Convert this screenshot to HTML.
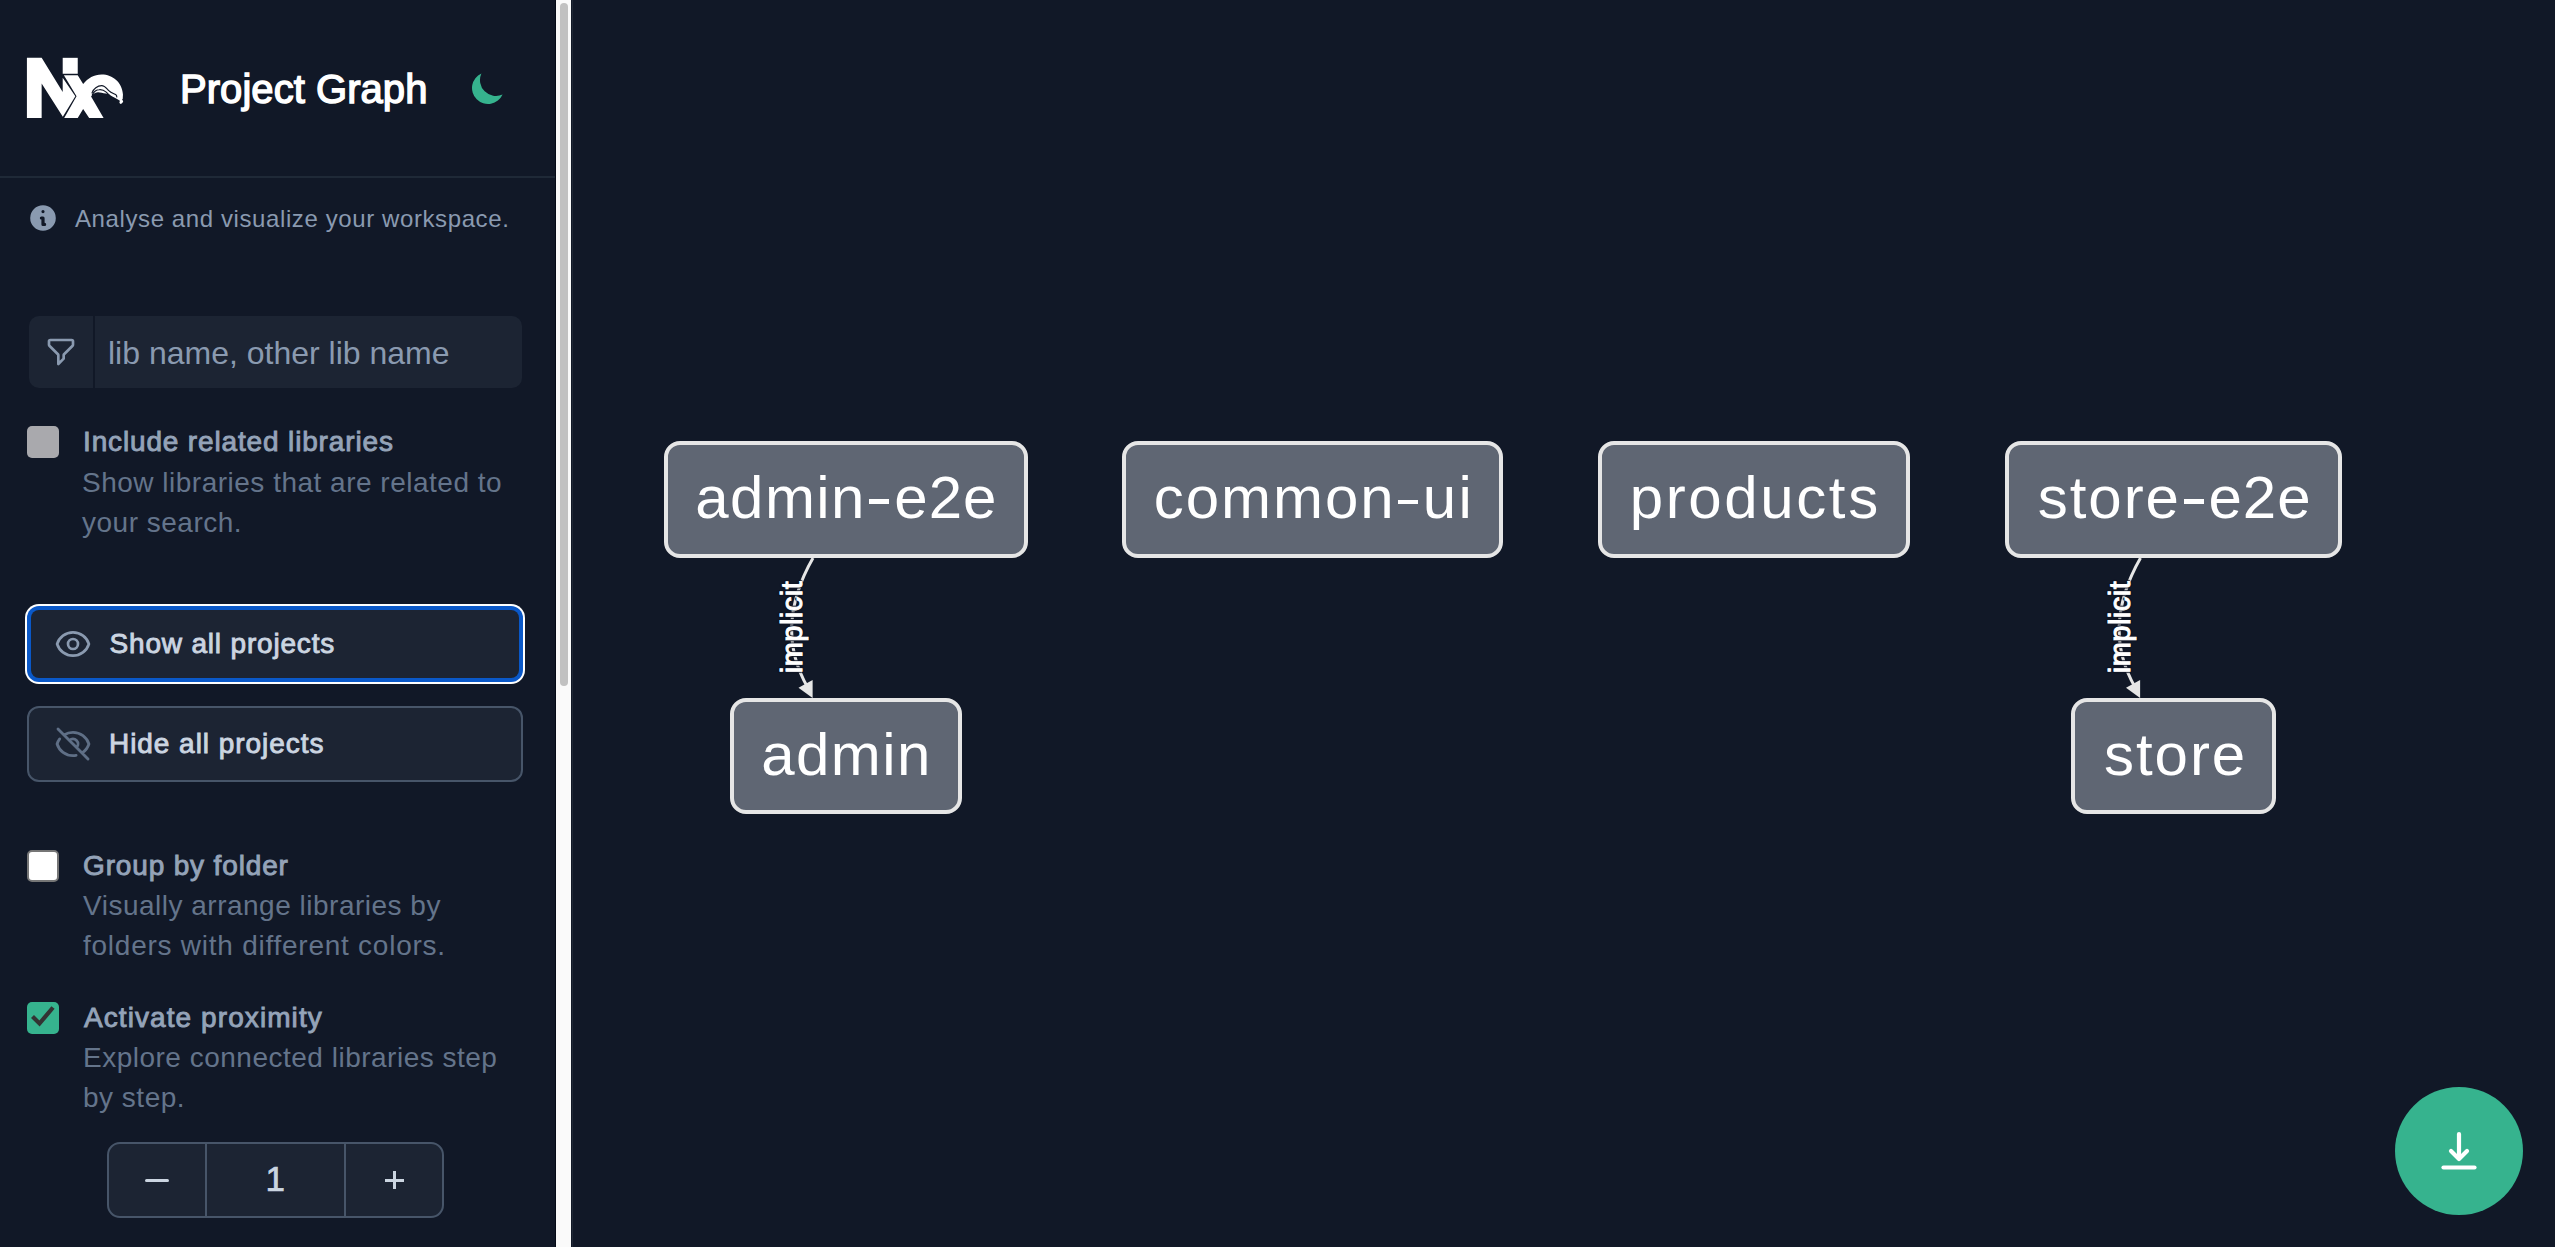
<!DOCTYPE html>
<html>
<head>
<meta charset="utf-8">
<style>
html,body{margin:0;padding:0;width:2555px;height:1247px;overflow:hidden;background:#111827;font-family:"Liberation Sans",sans-serif;}
.a{position:absolute;}
.t{position:absolute;white-space:nowrap;line-height:1;}
.lbl{font-size:28px;color:#94a3b8;-webkit-text-stroke:0.9px #94a3b8;letter-spacing:0.85px;}
.desc{font-size:28px;color:#64748b;line-height:40px;letter-spacing:0.5px;}
.node{position:absolute;box-sizing:border-box;border:4px solid #e6e6e6;background:#5f6673;border-radius:16px;}
.nt{position:absolute;white-space:nowrap;line-height:1;font-size:60px;color:#fff;}
</style>
</head>
<body>
<!-- SIDEBAR -->
<div id="sidebar" class="a" style="left:0;top:0;width:556px;height:1247px;background:#111827;">
  <!-- logo -->
  <svg class="a" style="left:20px;top:50px;width:110px;height:75px" viewBox="0 0 1829 1247">
    <path fill="#fff" d="M115,130 L360,130 L710,700 L710,460 L920,770 L712,1110 L360,555 L360,1130 L115,1130 Z"/>
    <rect fill="#fff" x="710" y="130" width="250" height="265"/>
    <path fill="#fff" d="M730,420 L960,420 L1050,565 C1130,470 1230,408 1358,408 C1540,408 1700,540 1712,740 L1708,815 L1672,852 C1610,815 1565,792 1535,775 C1485,748 1462,727 1428,725 C1372,722 1335,702 1294,704 C1240,708 1200,740 1182,775 L1390,1130 L1150,1130 L1050,980 L960,1130 L735,1130 L940,770 Z"/>
    <ellipse fill="#fff" cx="1684" cy="862" rx="26" ry="36" transform="rotate(40 1684 862)"/>
    <g fill="none" stroke="#111827" stroke-width="20" stroke-linecap="round">
      <path d="M1198,712 C1220,640 1290,594 1358,594 C1410,594 1440,640 1481,679 C1510,710 1560,725 1593,743 C1605,755 1610,765 1609,780"/>
      <path d="M1204,742 C1230,690 1260,663 1320,660 C1370,656 1410,680 1434,700 C1460,725 1480,745 1490,756"/>
    </g>
  </svg>
  <div id="title" class="t" style="left:180px;top:69px;font-size:40px;color:#fff;-webkit-text-stroke:1.4px #fff;letter-spacing:0.05px;">Project Graph</div>
  <!-- moon -->
  <svg class="a" style="left:468px;top:68px;width:40px;height:40px" viewBox="0 0 20 20"><path fill="#36b38e" d="M17.293 13.293A8 8 0 016.707 2.707a8.001 8.001 0 1010.586 10.586z"/></svg>
  <div class="a" style="left:0;top:176px;width:556px;height:2px;background:#1f2937;"></div>
  <!-- info -->
  <svg class="a" style="left:27px;top:202px;width:32px;height:32px" viewBox="0 0 20 20"><path fill="#8a9ab0" fill-rule="evenodd" d="M18 10a8 8 0 11-16 0 8 8 0 0116 0zm-7-4a1 1 0 11-2 0 1 1 0 012 0zM9 9a1 1 0 000 2v3a1 1 0 001 1h1a1 1 0 100-2v-3a1 1 0 00-1-1H9z"/></svg>
  <div id="info" class="t" style="left:75px;top:206.6px;font-size:24px;color:#8a9ab0;letter-spacing:0.6px;">Analyse and visualize your workspace.</div>

  <!-- search -->
  <div class="a" style="left:29px;top:316px;width:493px;height:72px;background:#1c2433;border-radius:10px;"></div>
  <div class="a" style="left:93px;top:316px;width:2px;height:72px;background:#111827;"></div>
  <svg class="a" style="left:45px;top:336px;width:32px;height:32px" viewBox="0 0 24 24"><path fill="none" stroke="#8a9ab0" stroke-width="2" stroke-linecap="round" stroke-linejoin="round" d="M3 4a1 1 0 011-1h16a1 1 0 011 1v2.586a1 1 0 01-.293.707l-6.414 6.414a1 1 0 00-.293.707V17l-4 4v-6.586a1 1 0 00-.293-.707L3.293 7.293A1 1 0 013 6.586V4z"/></svg>
  <div id="ph" class="t" style="left:108px;top:336.5px;font-size:32px;color:#8a9ab0;">lib name, other lib name</div>

  <!-- include related -->
  <div class="a" style="left:27px;top:426px;width:32px;height:32px;background:#a9a9ad;border-radius:5px;"></div>
  <div id="l1" class="t lbl" style="left:83px;top:428.1px;">Include related libraries</div>
  <div id="d1" class="t desc" style="left:82px;top:462.5px;">Show libraries that are related to<br>your search.</div>

  <!-- show all -->
  <div class="a" style="left:25px;top:604px;width:500px;height:80px;background:#fff;border-radius:14px;"></div>
  <div class="a" style="left:27px;top:606px;width:496px;height:76px;background:#0a58c8;border-radius:12px;"></div>
  <div class="a" style="left:31px;top:610px;width:488px;height:68px;background:#1c2433;border-radius:8px;"></div>
  <svg class="a" style="left:53px;top:624px;width:40px;height:40px" viewBox="0 0 24 24"><g fill="none" stroke="#8a9ab0" stroke-width="1.6" stroke-linecap="round" stroke-linejoin="round"><path d="M15 12a3 3 0 11-6 0 3 3 0 016 0z"/><path d="M2.458 12C3.732 7.943 7.523 5 12 5c4.478 0 8.268 2.943 9.542 7-1.274 4.057-5.064 7-9.542 7-4.477 0-8.268-2.943-9.542-7z"/></g></svg>
  <div id="b1" class="t" style="left:109.5px;top:630.4px;font-size:28px;color:#cbd5e1;-webkit-text-stroke:0.9px #cbd5e1;letter-spacing:0.82px;">Show all projects</div>

  <!-- hide all -->
  <div class="a" style="left:27px;top:706px;width:496px;height:76px;box-sizing:border-box;border:2px solid #475569;background:#1c2433;border-radius:12px;"></div>
  <svg class="a" style="left:53px;top:724px;width:40px;height:40px" viewBox="0 0 24 24"><path fill="none" stroke="#5f6f86" stroke-width="1.7" stroke-linecap="round" stroke-linejoin="round" d="M13.875 18.825A10.05 10.05 0 0112 19c-4.478 0-8.268-2.943-9.543-7a9.97 9.97 0 011.563-3.029m5.858.908a3 3 0 114.243 4.243M9.878 9.878l4.242 4.242M9.88 9.88l-3.29-3.29m7.532 7.532l3.29 3.29M3 3l3.59 3.59m0 0A9.953 9.953 0 0112 5c4.478 0 8.268 2.943 9.543 7a10.025 10.025 0 01-4.132 5.411m0 0L21 21"/></svg>
  <div id="b2" class="t" style="left:109px;top:730.4px;font-size:28px;color:#cbd5e1;-webkit-text-stroke:0.9px #cbd5e1;letter-spacing:0.95px;">Hide all projects</div>

  <!-- group by folder -->
  <div class="a" style="left:27px;top:850px;width:32px;height:32px;box-sizing:border-box;background:#fff;border:2px solid #767676;border-radius:5px;"></div>
  <div id="l2" class="t lbl" style="left:83px;top:852.1px;">Group by folder</div>
  <div id="d2" class="t desc" style="left:83px;top:885.8px;">Visually arrange libraries by<br><span style="letter-spacing:0.75px">folders with different colors.</span></div>

  <!-- activate proximity -->
  <div class="a" style="left:27px;top:1002px;width:32px;height:32px;background:#36b38e;border-radius:5px;"></div>
  <svg class="a" style="left:27px;top:1002px;width:32px;height:32px" viewBox="0 0 32 32"><path fill="none" stroke="#333" stroke-width="4.2" d="M5.5 14.5 L12.5 21.5 L26 5.5"/></svg>
  <div id="l3" class="t lbl" style="left:84px;top:1004.1px;letter-spacing:1.08px;">Activate proximity</div>
  <div id="d3" class="t desc" style="left:83px;top:1038.3px;">Explore connected libraries step<br>by step.</div>

  <!-- stepper -->
  <div class="a" style="left:107px;top:1142px;width:337px;height:76px;box-sizing:border-box;border:2px solid #475569;background:#1c2433;border-radius:13px;"></div>
  <div class="a" style="left:205px;top:1142px;width:2px;height:76px;background:#475569;"></div>
  <div class="a" style="left:344px;top:1142px;width:2px;height:76px;background:#475569;"></div>
  <div class="a" style="left:145px;top:1178.5px;width:24px;height:3px;background:#cbd5e1;border-radius:1.5px;"></div>
  <div id="one" class="t" style="left:265.5px;top:1161.2px;font-size:35px;color:#cbd5e1;-webkit-text-stroke:0.7px #cbd5e1;">1</div>
  <div class="a" style="left:384.6px;top:1178.6px;width:19px;height:3px;background:#cbd5e1;"></div>
  <div class="a" style="left:392.6px;top:1170.8px;width:3px;height:18.5px;background:#cbd5e1;"></div>
</div>

<!-- scrollbar -->
<div class="a" style="left:555px;top:0;width:1px;height:1247px;background:#050a16;"></div>
<div class="a" style="left:556px;top:0;width:15px;height:1247px;background:#fafafa;"></div>
<div class="a" style="left:560px;top:3px;width:8px;height:683px;background:#c1c1c1;border-radius:4px;"></div>
<div class="a" style="left:572px;top:0;width:1px;height:1247px;background:#202836;"></div>

<!-- GRAPH -->
<svg class="a" style="left:0;top:0;width:2555px;height:1247px" viewBox="0 0 2555 1247">
  <g fill="none" stroke="#e6e6e6" stroke-width="3">
    <path d="M813,558 Q773,628 808,688"/>
    <path d="M2140.5,558 Q2100.5,628 2135.5,688"/>
  </g>
  <g fill="#e6e6e6">
    <path d="M812.6,698 L798.5,687.8 L812.6,680 Z"/>
    <path d="M2140.1,698 L2126,687.8 L2140.1,680 Z"/>
  </g>
</svg>

<div class="node" style="left:664px;top:441px;width:364px;height:117px;"></div>
<div class="node" style="left:1122px;top:441px;width:381px;height:117px;"></div>
<div class="node" style="left:1598px;top:441px;width:312px;height:117px;"></div>
<div class="node" style="left:2005px;top:441px;width:337px;height:117px;"></div>
<div class="node" style="left:730px;top:698px;width:232px;height:116px;"></div>
<div class="node" style="left:2071px;top:698px;width:205px;height:116px;"></div>

<div id="n1a" class="nt" style="left:695.3px;top:467.9px;letter-spacing:1.44px;">admin</div>
<div class="a" style="left:869.4px;top:499.4px;width:19.6px;height:4.6px;background:#fff;"></div>
<div id="n1b" class="nt" style="left:894.3px;top:467.9px;letter-spacing:0.98px;">e2e</div>
<div id="n2a" class="nt" style="left:1153.8px;top:467.9px;letter-spacing:1.96px;">common</div>
<div class="a" style="left:1398px;top:499.6px;width:20px;height:4.6px;background:#fff;"></div>
<div id="n2b" class="nt" style="left:1422.8px;top:467.9px;letter-spacing:2.23px;">ui</div>
<div id="n3" class="nt" style="left:1629.7px;top:467.9px;letter-spacing:2.62px;">products</div>
<div id="n4a" class="nt" style="left:2037.8px;top:467.9px;letter-spacing:1.95px;">store</div>
<div class="a" style="left:2183.8px;top:499.4px;width:20.1px;height:4.6px;background:#fff;"></div>
<div id="n4b" class="nt" style="left:2208.5px;top:467.9px;letter-spacing:0.98px;">e2e</div>
<div id="n5" class="nt" style="left:761.3px;top:725px;letter-spacing:1.39px;">admin</div>
<div id="n6" class="nt" style="left:2104.1px;top:725px;letter-spacing:1.92px;">store</div>

<!-- edge labels -->
<div id="e1" class="t" style="left:792px;top:626.5px;font-size:29px;color:#fff;-webkit-text-stroke:1px #fff;letter-spacing:0.5px;transform:translate(-50%,-50%) rotate(-90deg);text-shadow:0 0 1.5px #111827,1.5px 0 1px #111827,-1.5px 0 1px #111827,0 1.5px 1px #111827,0 -1.5px 1px #111827;">implicit</div>
<div id="e2" class="t" style="left:2119.5px;top:626.5px;font-size:29px;color:#fff;-webkit-text-stroke:1px #fff;letter-spacing:0.5px;transform:translate(-50%,-50%) rotate(-90deg);text-shadow:0 0 1.5px #111827,1.5px 0 1px #111827,-1.5px 0 1px #111827,0 1.5px 1px #111827,0 -1.5px 1px #111827;">implicit</div>

<!-- download button -->
<div class="a" style="left:2395px;top:1087px;width:128px;height:128px;border-radius:50%;background:#36b38e;"></div>
<svg class="a" style="left:2395px;top:1087px;width:128px;height:128px" viewBox="0 0 128 128"><g fill="none" stroke="#fff" stroke-width="4.2" stroke-linecap="round" stroke-linejoin="round"><path d="M64 47 V71"/><path d="M56 64 L64 72 L72 64"/><path d="M48.5 80.5 H79.5"/></g></svg>
</body>
</html>
